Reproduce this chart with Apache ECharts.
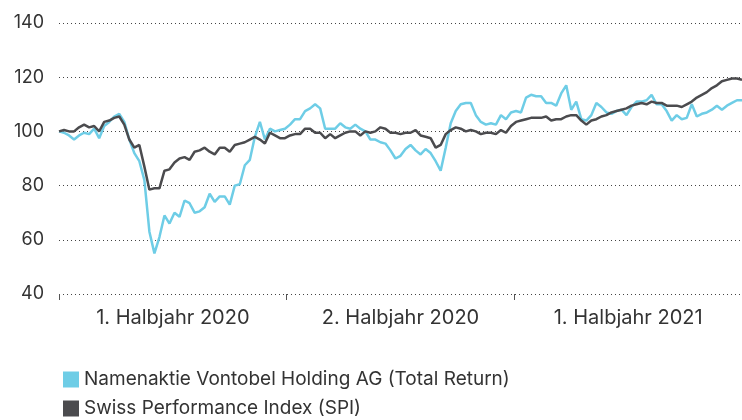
<!DOCTYPE html>
<html>
<head>
<meta charset="utf-8">
<script src="https://cdn.jsdelivr.net/npm/echarts@6/dist/echarts.min.js"></script>
<style>
  html, body { margin: 0; padding: 0; background: #fff; }
  #chart { width: 742px; height: 420px; }
</style>
</head>
<body>
<div id="chart"></div>
<script>
// Halbjahre unter der x-Achse
var halfYears = ['1. Halbjahr 2020', '2. Halbjahr 2020', '1. Halbjahr 2021'];
var yTicks = [40, 60, 80, 100, 120, 140];
var seriesNames = ['Namenaktie Vontobel Holding AG (Total Return)', 'Swiss Performance Index (SPI)'];

var vontobel = [
  100, 99.5, 98.5, 97, 98.5, 99.5, 99, 101, 97.5, 102,
  103.5, 105.5, 106.5, 103.5, 97, 92, 89, 82, 63, 55,
  61, 69, 66, 70, 68.5, 74.5, 73.5, 70, 70.5, 72,
  77, 74, 76, 76, 73, 80, 80.5, 87.5, 89.5, 98,
  103.5, 97, 101, 100, 100.5, 101, 102.5, 104.5, 104.5, 107.5,
  108.5, 110, 108.5, 101, 101, 101, 103, 101.5, 101, 102.5,
  101, 100, 97, 97, 96, 95.5, 93, 90, 91, 93.5,
  95, 93, 91.5, 93.5, 92, 89, 85.5, 94, 103, 107.5,
  110, 110.5, 110.5, 106, 103.5, 102.5, 103, 102.5, 106, 104.5,
  107, 107.5, 107, 112.5, 113.5, 113, 113, 110.5, 110.5, 109.5,
  114, 117, 108, 111, 104.5, 104, 106, 110.5, 109, 107,
  106.5, 107.5, 108, 106, 109, 111, 111, 111.5, 113.5, 110,
  110, 107.5, 104, 106, 104.5, 105, 110, 105.5, 106.5, 107,
  108, 109.5, 108, 109.5, 110.5, 111.5, 111.5
];
var spi = [
  100, 100.5, 100, 100, 101.5, 102.5, 101.5, 102, 100, 103.5,
  104, 105, 105.5, 102.5, 97, 94, 95, 87, 78.5, 79,
  79, 85.5, 86, 88.5, 90, 90.5, 89.5, 92.5, 93, 94,
  92.5, 91.5, 94, 94, 92.5, 95, 95.5, 96, 97, 98,
  97, 95.5, 99.5, 98.5, 97.5, 97.5, 98.5, 99, 99, 101,
  101, 99.5, 99.5, 97.5, 99, 97.5, 98.5, 99.5, 100, 100,
  98.5, 100, 99.5, 100, 101.5, 101, 99.5, 99.5, 99, 99.5,
  99.5, 100.5, 98.5, 98, 97.5, 94, 95, 99, 100.5, 101.5,
  101, 100, 100.5, 100, 99, 99.5, 99.5, 99, 100.5, 99.5,
  102, 103.5, 104, 104.5, 105, 105, 105, 105.5, 104, 104.5,
  104.5, 105.5, 106, 106, 104, 102.5, 104, 104.5, 105.5, 106,
  107, 107.5, 108, 108.5, 109.5, 110, 110.5, 110, 111, 110.5,
  110.5, 109.5, 109.5, 109.5, 109, 110, 111, 112.5, 113.5, 114.5,
  116, 117, 118.5, 119, 119.5, 119.5, 119
];

var dates = [];
var start = new Date(2020, 0, 1);
for (var i = 0; i < spi.length; i++) {
  var d = new Date(start.getTime() + i * 4 * 86400000);
  dates.push(d.getFullYear() + '-' + (d.getMonth() + 1) + '-' + d.getDate());
}

var blue = '#6ecde6';
var dark = '#4b4b4e';
var textColor = '#333333';
var font = 'Inter';

function legendRow(name, color, top) {
  return {
    orient: 'vertical',
    left: 58,
    top: top,
    itemWidth: 16,
    itemHeight: 16,
    icon: 'rect',
    textStyle: { color: textColor, fontSize: 19, fontFamily: font },
    data: [{ name: name, itemStyle: { color: color } }]
  };
}

var chart = echarts.init(document.getElementById('chart'));
chart.setOption({
  animation: false,
  backgroundColor: '#fff',
  textStyle: { fontFamily: font },
  grid: { left: 59, right: 0, top: 23, bottom: 126 },
  legend: [
    legendRow(seriesNames[0], blue, 365),
    legendRow(seriesNames[1], dark, 394)
  ],
  xAxis: [{
    type: 'category',
    data: dates,
    boundaryGap: false,
    show: false
  }, {
    type: 'category',
    data: halfYears,
    position: 'bottom',
    boundaryGap: true,
    axisLine: { show: false },
    axisTick: { show: true, length: 6, lineStyle: { color: '#555' } },
    axisLabel: { color: textColor, fontSize: 20, margin: 14, fontFamily: font },
    splitLine: { show: false }
  }],
  yAxis: {
    type: 'value',
    min: yTicks[0],
    max: yTicks[yTicks.length - 1],
    interval: 20,
    axisLine: { show: false },
    axisTick: { show: false },
    axisLabel: { color: textColor, fontSize: 18, margin: 15, fontFamily: font },
    splitLine: { lineStyle: { color: '#444', type: [1, 3], width: 1 } }
  },
  series: [{
    name: seriesNames[0],
    type: 'line',
    xAxisIndex: 0,
    data: vontobel,
    showSymbol: false,
    lineStyle: { color: blue, width: 2.5 },
    itemStyle: { color: blue }
  }, {
    name: seriesNames[1],
    type: 'line',
    xAxisIndex: 0,
    data: spi,
    showSymbol: false,
    lineStyle: { color: dark, width: 2.5 },
    itemStyle: { color: dark }
  }]
});
</script>
</body>
</html>
